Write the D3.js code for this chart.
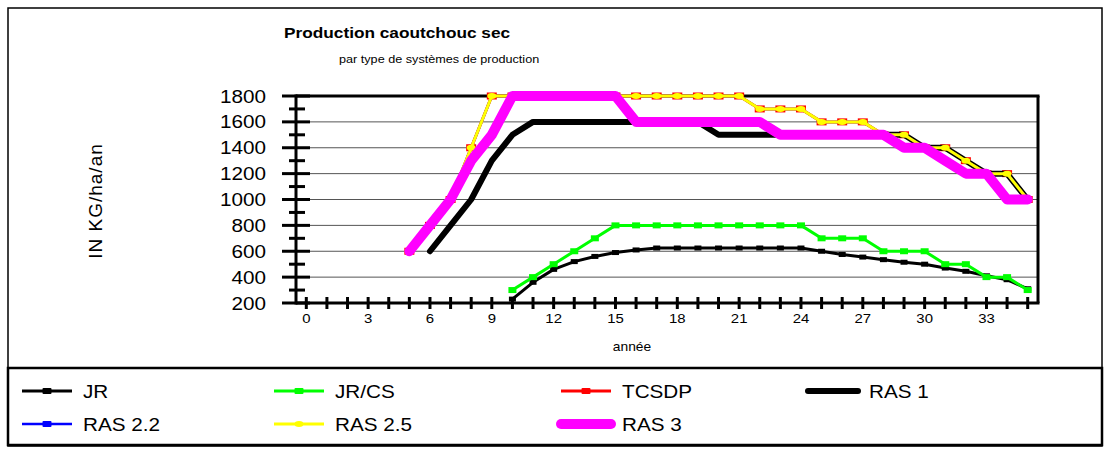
<!DOCTYPE html>
<html><head><meta charset="utf-8">
<script src="https://cdn.jsdelivr.net/npm/d3@7"></script>
<style>body{margin:0;background:#fff;font-family:"Liberation Sans",Arial,sans-serif}</style>
</head><body><svg id="c" width="1110" height="455"></svg>
<script>
const years = [0,1,2,3,4,5,6,7,8,9,10,11,12,13,14,15,16,17,18,19,20,21,22,23,24,25,26,27,28,29,30,31,32,33,34,35];
const tickLabels = [0,3,6,9,12,15,18,21,24,27,30,33];
const yTicks = [200,400,600,800,1000,1200,1400,1600,1800];
const N = null;
const JR      = [N,N,N,N,N,N,N,N,N,N,230,360,460,520,560,590,610,625,625,625,625,625,625,625,625,600,575,555,535,515,500,470,445,410,380,310];
const JRCS    = [N,N,N,N,N,N,N,N,N,N,300,400,500,600,700,800,800,800,800,800,800,800,800,800,800,700,700,700,600,600,600,500,500,400,400,300];
const TCSDP   = [N,N,N,N,N,600,800,1000,1400,1800,1800,1800,1800,1800,1800,1800,1800,1800,1800,1800,1800,1800,1700,1700,1700,1600,1600,1600,1500,1500,1400,1400,1300,1200,1200,1000];
const RAS1    = [N,N,N,N,N,N,600,800,1000,1300,1500,1600,1600,1600,1600,1600,1600,1600,1600,1600,1500,1500,1500,1500,1500,1500,1500,1500,1500,1500,1400,1400,1300,1200,1200,1000];
const RAS22   = [N,N,N,N,N,600,800,1000,1400,1800,1800,1800,1800,1800,1800,1800,1800,1800,1800,1800,1800,1800,1700,1700,1700,1600,1600,1600,1500,1500,1400,1400,1300,1200,1200,1000];
const RAS25   = [N,N,N,N,N,600,800,1000,1400,1800,1800,1800,1800,1800,1800,1800,1800,1800,1800,1800,1800,1800,1700,1700,1700,1600,1600,1600,1500,1500,1400,1400,1300,1200,1200,1000];
const RAS3    = [N,N,N,N,N,600,800,1000,1300,1500,1800,1800,1800,1800,1800,1800,1600,1600,1600,1600,1600,1600,1600,1500,1500,1500,1500,1500,1500,1400,1400,1300,1200,1200,1000,1000];

const series = [
  {name:"JR", data:JR, color:"#000", w:3, marker:"rect", mw:7, mh:5, lw:9, lh:6},
  {name:"JR/CS", data:JRCS, color:"#00ff00", w:3, marker:"rect", mw:8, mh:6, lw:9, lh:6},
  {name:"TCSDP", data:TCSDP, color:"#ff0000", w:3, marker:"rect", mw:10, mh:7, lw:9, lh:6},
  {name:"RAS 1", data:RAS1, color:"#000", w:6, marker:null},
  {name:"RAS 2.2", data:RAS22, color:"#0000ff", w:2.5, marker:"rect", mw:6, mh:4, lw:9, lh:6},
  {name:"RAS 2.5", data:RAS25, color:"#ffff00", w:3, marker:"ellipse", mw:9, mh:6, lw:9, lh:6},
  {name:"RAS 3", data:RAS3, color:"#ff00ff", w:10, marker:null}
];

const SX = 1.15;
const svg = d3.select("#c");
const L=296, R=1038, T=96, B=303;
const x = d3.scaleBand().domain(years).range([L,R]).padding(0);
const cx = d => x(d)+x.bandwidth()/2;
const y = d3.scaleLinear().domain([200,1800]).range([B,T]);

function stxt(g, x0, y0, str, size, opts={}){
  const t = g.append("text").attr("transform",`translate(${x0},${y0}) scale(${SX},1)`)
    .attr("font-size",size).text(str);
  if(opts.anchor) t.attr("text-anchor",opts.anchor);
  if(opts.bold) t.attr("font-weight","bold");
  return t;
}

svg.append("rect").attr("x",8).attr("y",8).attr("width",1094).attr("height",438).attr("fill","none").attr("stroke","#000").attr("stroke-width",1.5);

stxt(svg,284,38,"Production caoutchouc sec",15,{bold:true});
stxt(svg,339,63,"par type de systèmes de production",11);

svg.append("g").selectAll("line").data(yTicks.slice(1,-1)).join("line")
  .attr("x1",L).attr("x2",R).attr("y1",d=>y(d)).attr("y2",d=>y(d))
  .attr("stroke","#555").attr("stroke-width",1);

svg.append("line").attr("x1",L).attr("x2",R+1.5).attr("y1",T).attr("y2",T).attr("stroke","#000").attr("stroke-width",3);
svg.append("line").attr("x1",R).attr("x2",R).attr("y1",T).attr("y2",B).attr("stroke","#000").attr("stroke-width",3);

const yMinor = d3.range(300,1800,200);
svg.append("g").selectAll("line").data(yMinor).join("line")
  .attr("x1",289).attr("x2",305).attr("y1",d=>y(d)).attr("y2",d=>y(d)).attr("stroke","#000").attr("stroke-width",3);
const gyl = svg.append("g");
yTicks.forEach(v=>stxt(gyl,266,y(v)+6.5,String(v),18,{anchor:"end"}));
svg.append("g").selectAll("line").data(yTicks).join("line")
  .attr("x1",282).attr("x2",310).attr("y1",d=>y(d)).attr("y2",d=>y(d)).attr("stroke","#000").attr("stroke-width",3);
svg.append("line").attr("x1",L).attr("x2",L).attr("y1",T-1.5).attr("y2",B+1.5).attr("stroke","#000").attr("stroke-width",3);

svg.append("g").selectAll("line").data(years).join("line")
  .attr("x1",d=>cx(d)).attr("x2",d=>cx(d)).attr("y1",297).attr("y2",309).attr("stroke","#000").attr("stroke-width",3);
svg.append("line").attr("x1",L).attr("x2",R+1.5).attr("y1",B).attr("y2",B).attr("stroke","#000").attr("stroke-width",3);
const gxl = svg.append("g");
tickLabels.forEach(v=>stxt(gxl,cx(v),323,String(v),13,{anchor:"middle"}));

stxt(svg,632,351,"année",12,{anchor:"middle"});
svg.append("text").attr("transform","translate(102,201) rotate(-90)").attr("text-anchor","middle")
  .attr("font-size",19).attr("letter-spacing",1).text("IN KG/ha/an");

const line = d3.line().defined(d=>d.v!==null).x(d=>cx(d.x)).y(d=>y(d.v));
const gS = svg.append("g");
series.forEach(s=>{
  const pts = years.map((yr,i)=>({x:yr,v:s.data[i]}));
  gS.append("path").datum(pts).attr("d",line).attr("fill","none").attr("stroke",s.color)
    .attr("stroke-width",s.w).attr("stroke-linejoin","round").attr("stroke-linecap", s.w>=6?"round":"butt");
  if(s.marker){
    const p = pts.filter(d=>d.v!==null);
    if(s.marker==="rect"){
      gS.append("g").selectAll("rect").data(p).join("rect")
        .attr("x",d=>cx(d.x)-s.mw/2).attr("y",d=>y(d.v)-s.mh/2).attr("width",s.mw).attr("height",s.mh).attr("fill",s.color);
    } else {
      gS.append("g").selectAll("ellipse").data(p).join("ellipse")
        .attr("cx",d=>cx(d.x)).attr("cy",d=>y(d.v)).attr("rx",s.mw/2).attr("ry",s.mh/2).attr("fill",s.color);
    }
  }
});

svg.append("rect").attr("x",8).attr("y",368).attr("width",1094).attr("height",77).attr("fill","none").attr("stroke","#000").attr("stroke-width",2.5);
const colX = [22,274,561,808];
const rowY = [391,424];
series.forEach((s,i)=>{
  const c = i%4, r = Math.floor(i/4);
  const x0 = colX[c], yy = rowY[r];
  const g = svg.append("g");
  g.append("line").attr("x1",x0).attr("x2",x0+50).attr("y1",yy).attr("y2",yy).attr("stroke",s.color)
    .attr("stroke-width",s.w).attr("stroke-linecap",s.w>=6?"round":"butt");
  if(s.marker==="rect") g.append("rect").attr("x",x0+25-s.lw/2).attr("y",yy-s.lh/2).attr("width",s.lw).attr("height",s.lh).attr("rx",1).attr("fill",s.color);
  if(s.marker==="ellipse") g.append("ellipse").attr("cx",x0+25).attr("cy",yy).attr("rx",s.lw/2).attr("ry",s.lh/2).attr("fill",s.color);
  stxt(g,x0+61,yy+6.5,s.name,18);
});
</script></body></html>
